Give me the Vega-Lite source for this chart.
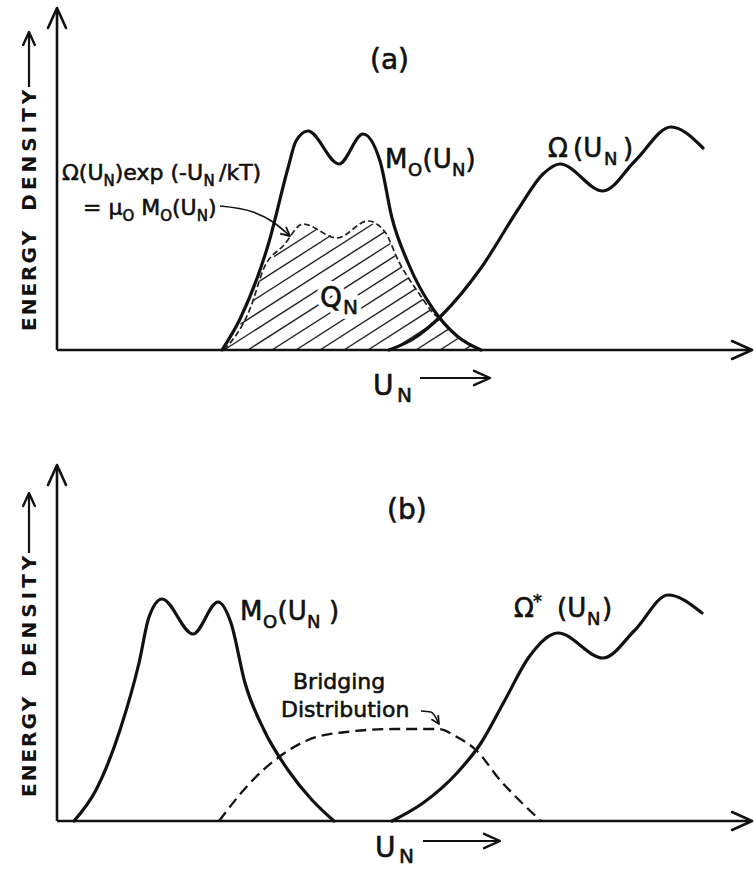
{
  "$schema": "https://vega.github.io/schema/vega-lite/v6.json",
  "padding": 0,
  "spacing": 0,
  "background": "white",
  "config": {"view": {"stroke": null}, "text": {"stroke": "#111", "strokeWidth": 0.6}},
  "datasets": {
    "a_hatch": [
      {"x": 217, "y": 93.4, "x2": 259.3, "y2": 120.5},
      {"x": 202.5, "y": 68.8, "x2": 273.9, "y2": 114.5},
      {"x": 195.8, "y": 49.2, "x2": 315.8, "y2": 126},
      {"x": 183.4, "y": 25.9, "x2": 327.7, "y2": 118.2},
      {"x": 167, "y": 0, "x2": 333.4, "y2": 106.5},
      {"x": 191, "y": 0, "x2": 338.9, "y2": 94.7},
      {"x": 215, "y": 0, "x2": 345, "y2": 83.2},
      {"x": 239, "y": 0, "x2": 352, "y2": 72.3},
      {"x": 263, "y": 0, "x2": 358.9, "y2": 61.4},
      {"x": 287, "y": 0, "x2": 366.4, "y2": 50.8},
      {"x": 311, "y": 0, "x2": 374, "y2": 40.3},
      {"x": 335, "y": 0, "x2": 382.7, "y2": 30.5},
      {"x": 359, "y": 0, "x2": 392.3, "y2": 21.3},
      {"x": 383, "y": 0, "x2": 402.5, "y2": 12.5},
      {"x": 407, "y": 0, "x2": 415.1, "y2": 5.2}
    ],
    "a_dash": [
      {"x": 167, "y": 0}, {"x": 193, "y": 41}, {"x": 207, "y": 82}, {"x": 227, "y": 105},
      {"x": 246, "y": 126}, {"x": 280, "y": 112}, {"x": 311, "y": 129}, {"x": 328, "y": 118},
      {"x": 342, "y": 88}, {"x": 361, "y": 58}, {"x": 378, "y": 35}, {"x": 386, "y": 29}
    ],
    "a_m0": [
      {"x": 165, "y": 0}, {"x": 183, "y": 31}, {"x": 212, "y": 108}, {"x": 231, "y": 182},
      {"x": 239, "y": 209}, {"x": 251, "y": 219}, {"x": 282, "y": 186}, {"x": 306, "y": 216},
      {"x": 323, "y": 189}, {"x": 335, "y": 132}, {"x": 352, "y": 85}, {"x": 376, "y": 41},
      {"x": 400, "y": 14}, {"x": 424, "y": 0}
    ],
    "a_omega": [
      {"x": 332, "y": 0}, {"x": 356, "y": 11}, {"x": 385, "y": 35}, {"x": 424, "y": 82},
      {"x": 462, "y": 142}, {"x": 486, "y": 176}, {"x": 503, "y": 186}, {"x": 546, "y": 159},
      {"x": 578, "y": 189}, {"x": 614, "y": 223}, {"x": 646, "y": 202}
    ],
    "a_axes": [
      {"x": 0, "y": 0, "x2": 0, "y2": 340},
      {"x": 0, "y": 0, "x2": 693, "y2": 0}
    ],
    "a_thin": [
      {"x": -28, "y": 263, "x2": -28, "y2": 316},
      {"x": 363, "y": -28, "x2": 431, "y2": -28}
    ],
    "a_up_big": [{"x": 0, "y": 342}],
    "a_right_big": [{"x": 695, "y": 0}],
    "a_up_small": [{"x": -28, "y": 318}],
    "a_right_small": [{"x": 433, "y": -28}],
    "a_ann": [{"x": 163, "y": 144}, {"x": 196, "y": 138}, {"x": 216, "y": 128}, {"x": 233, "y": 114}],
    "a_ann_head": [{"x": 233, "y": 114}],
    "a_t28": [{"x": 313, "y": 281, "text": "(a)"}, {"x": 263, "y": 43, "text": "Q"}, {"x": 316, "y": -45, "text": "U"}],
    "a_q_main": [{"x": 263, "y": 43, "text": "Q"}],
    "a_q_sub": [{"x": 286, "y": 36, "text": "N"}],
    "a_t26": [
      {"x": 328, "y": 182, "text": "M"}, {"x": 365.5, "y": 182, "text": "(U"}, {"x": 408.5, "y": 182, "text": ")"},
      {"x": 491, "y": 193, "text": "Ω"}, {"x": 516, "y": 193, "text": "(U"}, {"x": 566, "y": 193, "text": ")"}
    ],
    "a_s18": [{"x": 351, "y": 174, "text": "O"}, {"x": 395, "y": 174, "text": "N"}, {"x": 547, "y": 185, "text": "N"}],
    "a_t22": [
      {"x": 5, "y": 170, "text": "Ω(U"}, {"x": 57.7, "y": 170, "text": ")exp (-U"}, {"x": 162, "y": 170, "text": "/kT)"},
      {"x": 26, "y": 135, "text": "= μ"}, {"x": 84.2, "y": 135, "text": "M"}, {"x": 115, "y": 135, "text": "(U"}, {"x": 150.9, "y": 135, "text": ")"}
    ],
    "a_s15": [
      {"x": 46.5, "y": 164, "text": "N"}, {"x": 146.4, "y": 164, "text": "N"},
      {"x": 65.4, "y": 129, "text": "O"}, {"x": 103.2, "y": 129, "text": "O"}, {"x": 139.7, "y": 129, "text": "N"}
    ],
    "a_s20": [{"x": 286, "y": 36, "text": "N"}, {"x": 340, "y": -52, "text": "N"}],
    "a_vert": [{"x": -27, "y": 19, "text": "E\u200aN\u200aE\u200aR\u200aG\u200aY\u2003D\u2009E\u2009N\u2009S\u2009I\u2009T\u2009Y"}],
    "b_m0": [
      {"x": 17, "y": 0}, {"x": 39, "y": 31}, {"x": 63, "y": 91}, {"x": 82, "y": 158},
      {"x": 92, "y": 204}, {"x": 105, "y": 222}, {"x": 136, "y": 187}, {"x": 161, "y": 219},
      {"x": 174, "y": 198}, {"x": 188, "y": 138}, {"x": 207, "y": 91}, {"x": 231, "y": 51},
      {"x": 255, "y": 21}, {"x": 277, "y": 0}
    ],
    "b_omega": [
      {"x": 335, "y": 0}, {"x": 366, "y": 18}, {"x": 400, "y": 48}, {"x": 424, "y": 78},
      {"x": 448, "y": 121}, {"x": 472, "y": 164}, {"x": 501, "y": 188}, {"x": 546, "y": 163},
      {"x": 578, "y": 191}, {"x": 611, "y": 226}, {"x": 645, "y": 208}
    ],
    "b_bridge": [
      {"x": 162, "y": 0}, {"x": 193, "y": 38}, {"x": 222, "y": 64}, {"x": 251, "y": 81},
      {"x": 289, "y": 89}, {"x": 337, "y": 92}, {"x": 381, "y": 92}, {"x": 400, "y": 84},
      {"x": 419, "y": 71}, {"x": 443, "y": 41}, {"x": 462, "y": 21}, {"x": 484, "y": 0}
    ],
    "b_axes": [
      {"x": 0, "y": 0, "x2": 0, "y2": 354},
      {"x": 0, "y": 0, "x2": 693, "y2": 0}
    ],
    "b_thin": [
      {"x": -28, "y": 268, "x2": -28, "y2": 326},
      {"x": 366, "y": -20, "x2": 441, "y2": -20}
    ],
    "b_up_big": [{"x": 0, "y": 356}],
    "b_right_big": [{"x": 695, "y": 0}],
    "b_up_small": [{"x": -28, "y": 328}],
    "b_right_small": [{"x": 443, "y": -20}],
    "b_ann": [{"x": 364, "y": 110}, {"x": 374, "y": 109}, {"x": 382, "y": 97}],
    "b_ann_head": [{"x": 382, "y": 97}],
    "b_t28": [{"x": 330, "y": 302, "text": "(b)"}, {"x": 318, "y": -36, "text": "U"}],
    "b_t26": [
      {"x": 183, "y": 201, "text": "M"}, {"x": 220.5, "y": 201, "text": "(U"}, {"x": 272, "y": 201, "text": ")"},
      {"x": 457, "y": 204, "text": "Ω"}, {"x": 500, "y": 204, "text": "(U"}, {"x": 545, "y": 204, "text": ")"}
    ],
    "b_s18": [{"x": 206, "y": 193, "text": "O"}, {"x": 250, "y": 193, "text": "N"}, {"x": 530, "y": 196, "text": "N"}, {"x": 476, "y": 214, "text": "*"}],
    "b_t22": [{"x": 236, "y": 132, "text": "Bridging"}, {"x": 224, "y": 104, "text": "Distribution"}],
    "b_s20": [{"x": 342, "y": -42, "text": "N"}],
    "b_vert": [{"x": -27, "y": 24, "text": "E\u200aN\u200aE\u200aR\u200aG\u200aY\u2003D\u2009E\u2009N\u2009S\u2009I\u2009T\u2009Y"}]
  },
  "vconcat": [
    {
      "width": 754,
      "height": 430,
      "encoding": {
        "x": {"field": "x", "type": "quantitative", "scale": {"domain": [-57, 697], "nice": false, "zero": false}, "axis": null},
        "y": {"field": "y", "type": "quantitative", "scale": {"domain": [-80, 350], "nice": false, "zero": false}, "axis": null}
      },
      "layer": [
        {"data": {"name": "a_hatch"}, "mark": {"type": "rule", "color": "#222", "strokeWidth": 1.4}, "encoding": {"x2": {"field": "x2"}, "y2": {"field": "y2"}}},
        {"data": {"name": "a_q_main"}, "mark": {"type": "text", "align": "left", "baseline": "alphabetic", "font": "DejaVu Sans", "fontSize": 28, "fill": "white", "stroke": "white", "strokeWidth": 10, "strokeJoin": "round"}, "encoding": {"text": {"field": "text"}}},
        {"data": {"name": "a_q_sub"}, "mark": {"type": "text", "align": "left", "baseline": "alphabetic", "font": "DejaVu Sans", "fontSize": 20, "fill": "white", "stroke": "white", "strokeWidth": 10, "strokeJoin": "round"}, "encoding": {"text": {"field": "text"}}},
        {"data": {"name": "a_dash"}, "mark": {"type": "line", "interpolate": "monotone", "color": "#222", "strokeWidth": 1.7, "strokeDash": [6, 3]}, "encoding": {}},
        {"data": {"name": "a_m0"}, "mark": {"type": "line", "interpolate": "monotone", "color": "#111", "strokeWidth": 3.2, "strokeCap": "round"}, "encoding": {}},
        {"data": {"name": "a_omega"}, "mark": {"type": "line", "interpolate": "monotone", "color": "#111", "strokeWidth": 3.2, "strokeCap": "round"}, "encoding": {}},
        {"data": {"name": "a_axes"}, "mark": {"type": "rule", "color": "#111", "strokeWidth": 2.6}, "encoding": {"x2": {"field": "x2"}, "y2": {"field": "y2"}}},
        {"data": {"name": "a_thin"}, "mark": {"type": "rule", "color": "#111", "strokeWidth": 2.2}, "encoding": {"x2": {"field": "x2"}, "y2": {"field": "y2"}}},
        {"data": {"name": "a_up_big"}, "mark": {"type": "point", "shape": "M -1 -0.45 L 0 0 L -1 0.45", "size": 1600, "filled": false, "color": "#111", "strokeWidth": 2.6, "strokeJoin": "round", "strokeCap": "round", "angle": -90, "opacity": 1}, "encoding": {}},
        {"data": {"name": "a_right_big"}, "mark": {"type": "point", "shape": "M -1 -0.45 L 0 0 L -1 0.45", "size": 1600, "filled": false, "color": "#111", "strokeWidth": 2.6, "strokeJoin": "round", "strokeCap": "round", "angle": 0, "opacity": 1}, "encoding": {}},
        {"data": {"name": "a_up_small"}, "mark": {"type": "point", "shape": "M -1 -0.45 L 0 0 L -1 0.45", "size": 676, "filled": false, "color": "#111", "strokeWidth": 2.4, "strokeJoin": "round", "strokeCap": "round", "angle": -90, "opacity": 1}, "encoding": {}},
        {"data": {"name": "a_right_small"}, "mark": {"type": "point", "shape": "M -1 -0.45 L 0 0 L -1 0.45", "size": 1024, "filled": false, "color": "#111", "strokeWidth": 2.4, "strokeJoin": "round", "strokeCap": "round", "angle": 0, "opacity": 1}, "encoding": {}},
        {"data": {"name": "a_ann"}, "mark": {"type": "line", "interpolate": "monotone", "color": "#111", "strokeWidth": 1.6}, "encoding": {}},
        {"data": {"name": "a_ann_head"}, "mark": {"type": "point", "shape": "M -1 -0.5 L 0 0 L -1 0.5", "size": 324, "filled": false, "color": "#111", "strokeWidth": 1.8, "strokeJoin": "round", "angle": 40, "opacity": 1}, "encoding": {}},
        {"data": {"name": "a_t28"}, "mark": {"type": "text", "align": "left", "baseline": "alphabetic", "font": "DejaVu Sans", "fontSize": 28, "color": "#111"}, "encoding": {"text": {"field": "text"}}},
        {"data": {"name": "a_t26"}, "mark": {"type": "text", "align": "left", "baseline": "alphabetic", "font": "DejaVu Sans", "fontSize": 26, "color": "#111"}, "encoding": {"text": {"field": "text"}}},
        {"data": {"name": "a_s18"}, "mark": {"type": "text", "align": "left", "baseline": "alphabetic", "font": "DejaVu Sans", "fontSize": 18, "color": "#111"}, "encoding": {"text": {"field": "text"}}},
        {"data": {"name": "a_t22"}, "mark": {"type": "text", "align": "left", "baseline": "alphabetic", "font": "DejaVu Sans", "fontSize": 22, "color": "#111"}, "encoding": {"text": {"field": "text"}}},
        {"data": {"name": "a_s15"}, "mark": {"type": "text", "align": "left", "baseline": "alphabetic", "font": "DejaVu Sans", "fontSize": 15, "color": "#111"}, "encoding": {"text": {"field": "text"}}},
        {"data": {"name": "a_s20"}, "mark": {"type": "text", "align": "left", "baseline": "alphabetic", "font": "DejaVu Sans", "fontSize": 20, "color": "#111"}, "encoding": {"text": {"field": "text"}}},
        {"data": {"name": "a_vert"}, "mark": {"type": "text", "align": "left", "baseline": "middle", "angle": 270, "font": "DejaVu Sans", "fontWeight": "bold", "fontSize": 20, "color": "#111", "strokeWidth": 0}, "encoding": {"text": {"field": "text"}}}
      ]
    },
    {
      "width": 754,
      "height": 439,
      "encoding": {
        "x": {"field": "x", "type": "quantitative", "scale": {"domain": [-57, 697], "nice": false, "zero": false}, "axis": null},
        "y": {"field": "y", "type": "quantitative", "scale": {"domain": [-48, 391], "nice": false, "zero": false}, "axis": null}
      },
      "layer": [
        {"data": {"name": "b_bridge"}, "mark": {"type": "line", "interpolate": "monotone", "color": "#111", "strokeWidth": 2.3, "strokeDash": [11, 6]}, "encoding": {}},
        {"data": {"name": "b_m0"}, "mark": {"type": "line", "interpolate": "monotone", "color": "#111", "strokeWidth": 3.2, "strokeCap": "round"}, "encoding": {}},
        {"data": {"name": "b_omega"}, "mark": {"type": "line", "interpolate": "monotone", "color": "#111", "strokeWidth": 3.2, "strokeCap": "round"}, "encoding": {}},
        {"data": {"name": "b_axes"}, "mark": {"type": "rule", "color": "#111", "strokeWidth": 2.6}, "encoding": {"x2": {"field": "x2"}, "y2": {"field": "y2"}}},
        {"data": {"name": "b_thin"}, "mark": {"type": "rule", "color": "#111", "strokeWidth": 2.2}, "encoding": {"x2": {"field": "x2"}, "y2": {"field": "y2"}}},
        {"data": {"name": "b_up_big"}, "mark": {"type": "point", "shape": "M -1 -0.45 L 0 0 L -1 0.45", "size": 1600, "filled": false, "color": "#111", "strokeWidth": 2.6, "strokeJoin": "round", "strokeCap": "round", "angle": -90, "opacity": 1}, "encoding": {}},
        {"data": {"name": "b_right_big"}, "mark": {"type": "point", "shape": "M -1 -0.45 L 0 0 L -1 0.45", "size": 1600, "filled": false, "color": "#111", "strokeWidth": 2.6, "strokeJoin": "round", "strokeCap": "round", "angle": 0, "opacity": 1}, "encoding": {}},
        {"data": {"name": "b_up_small"}, "mark": {"type": "point", "shape": "M -1 -0.45 L 0 0 L -1 0.45", "size": 676, "filled": false, "color": "#111", "strokeWidth": 2.4, "strokeJoin": "round", "strokeCap": "round", "angle": -90, "opacity": 1}, "encoding": {}},
        {"data": {"name": "b_right_small"}, "mark": {"type": "point", "shape": "M -1 -0.45 L 0 0 L -1 0.45", "size": 1024, "filled": false, "color": "#111", "strokeWidth": 2.4, "strokeJoin": "round", "strokeCap": "round", "angle": 0, "opacity": 1}, "encoding": {}},
        {"data": {"name": "b_ann"}, "mark": {"type": "line", "interpolate": "monotone", "color": "#111", "strokeWidth": 1.6}, "encoding": {}},
        {"data": {"name": "b_ann_head"}, "mark": {"type": "point", "shape": "M -1 -0.5 L 0 0 L -1 0.5", "size": 256, "filled": false, "color": "#111", "strokeWidth": 1.8, "strokeJoin": "round", "angle": 58, "opacity": 1}, "encoding": {}},
        {"data": {"name": "b_t28"}, "mark": {"type": "text", "align": "left", "baseline": "alphabetic", "font": "DejaVu Sans", "fontSize": 28, "color": "#111"}, "encoding": {"text": {"field": "text"}}},
        {"data": {"name": "b_t26"}, "mark": {"type": "text", "align": "left", "baseline": "alphabetic", "font": "DejaVu Sans", "fontSize": 26, "color": "#111"}, "encoding": {"text": {"field": "text"}}},
        {"data": {"name": "b_s18"}, "mark": {"type": "text", "align": "left", "baseline": "alphabetic", "font": "DejaVu Sans", "fontSize": 18, "color": "#111"}, "encoding": {"text": {"field": "text"}}},
        {"data": {"name": "b_t22"}, "mark": {"type": "text", "align": "left", "baseline": "alphabetic", "font": "DejaVu Sans", "fontSize": 22, "color": "#111"}, "encoding": {"text": {"field": "text"}}},
        {"data": {"name": "b_s20"}, "mark": {"type": "text", "align": "left", "baseline": "alphabetic", "font": "DejaVu Sans", "fontSize": 20, "color": "#111"}, "encoding": {"text": {"field": "text"}}},
        {"data": {"name": "b_vert"}, "mark": {"type": "text", "align": "left", "baseline": "middle", "angle": 270, "font": "DejaVu Sans", "fontWeight": "bold", "fontSize": 20, "color": "#111", "strokeWidth": 0}, "encoding": {"text": {"field": "text"}}}
      ]
    }
  ]
}
